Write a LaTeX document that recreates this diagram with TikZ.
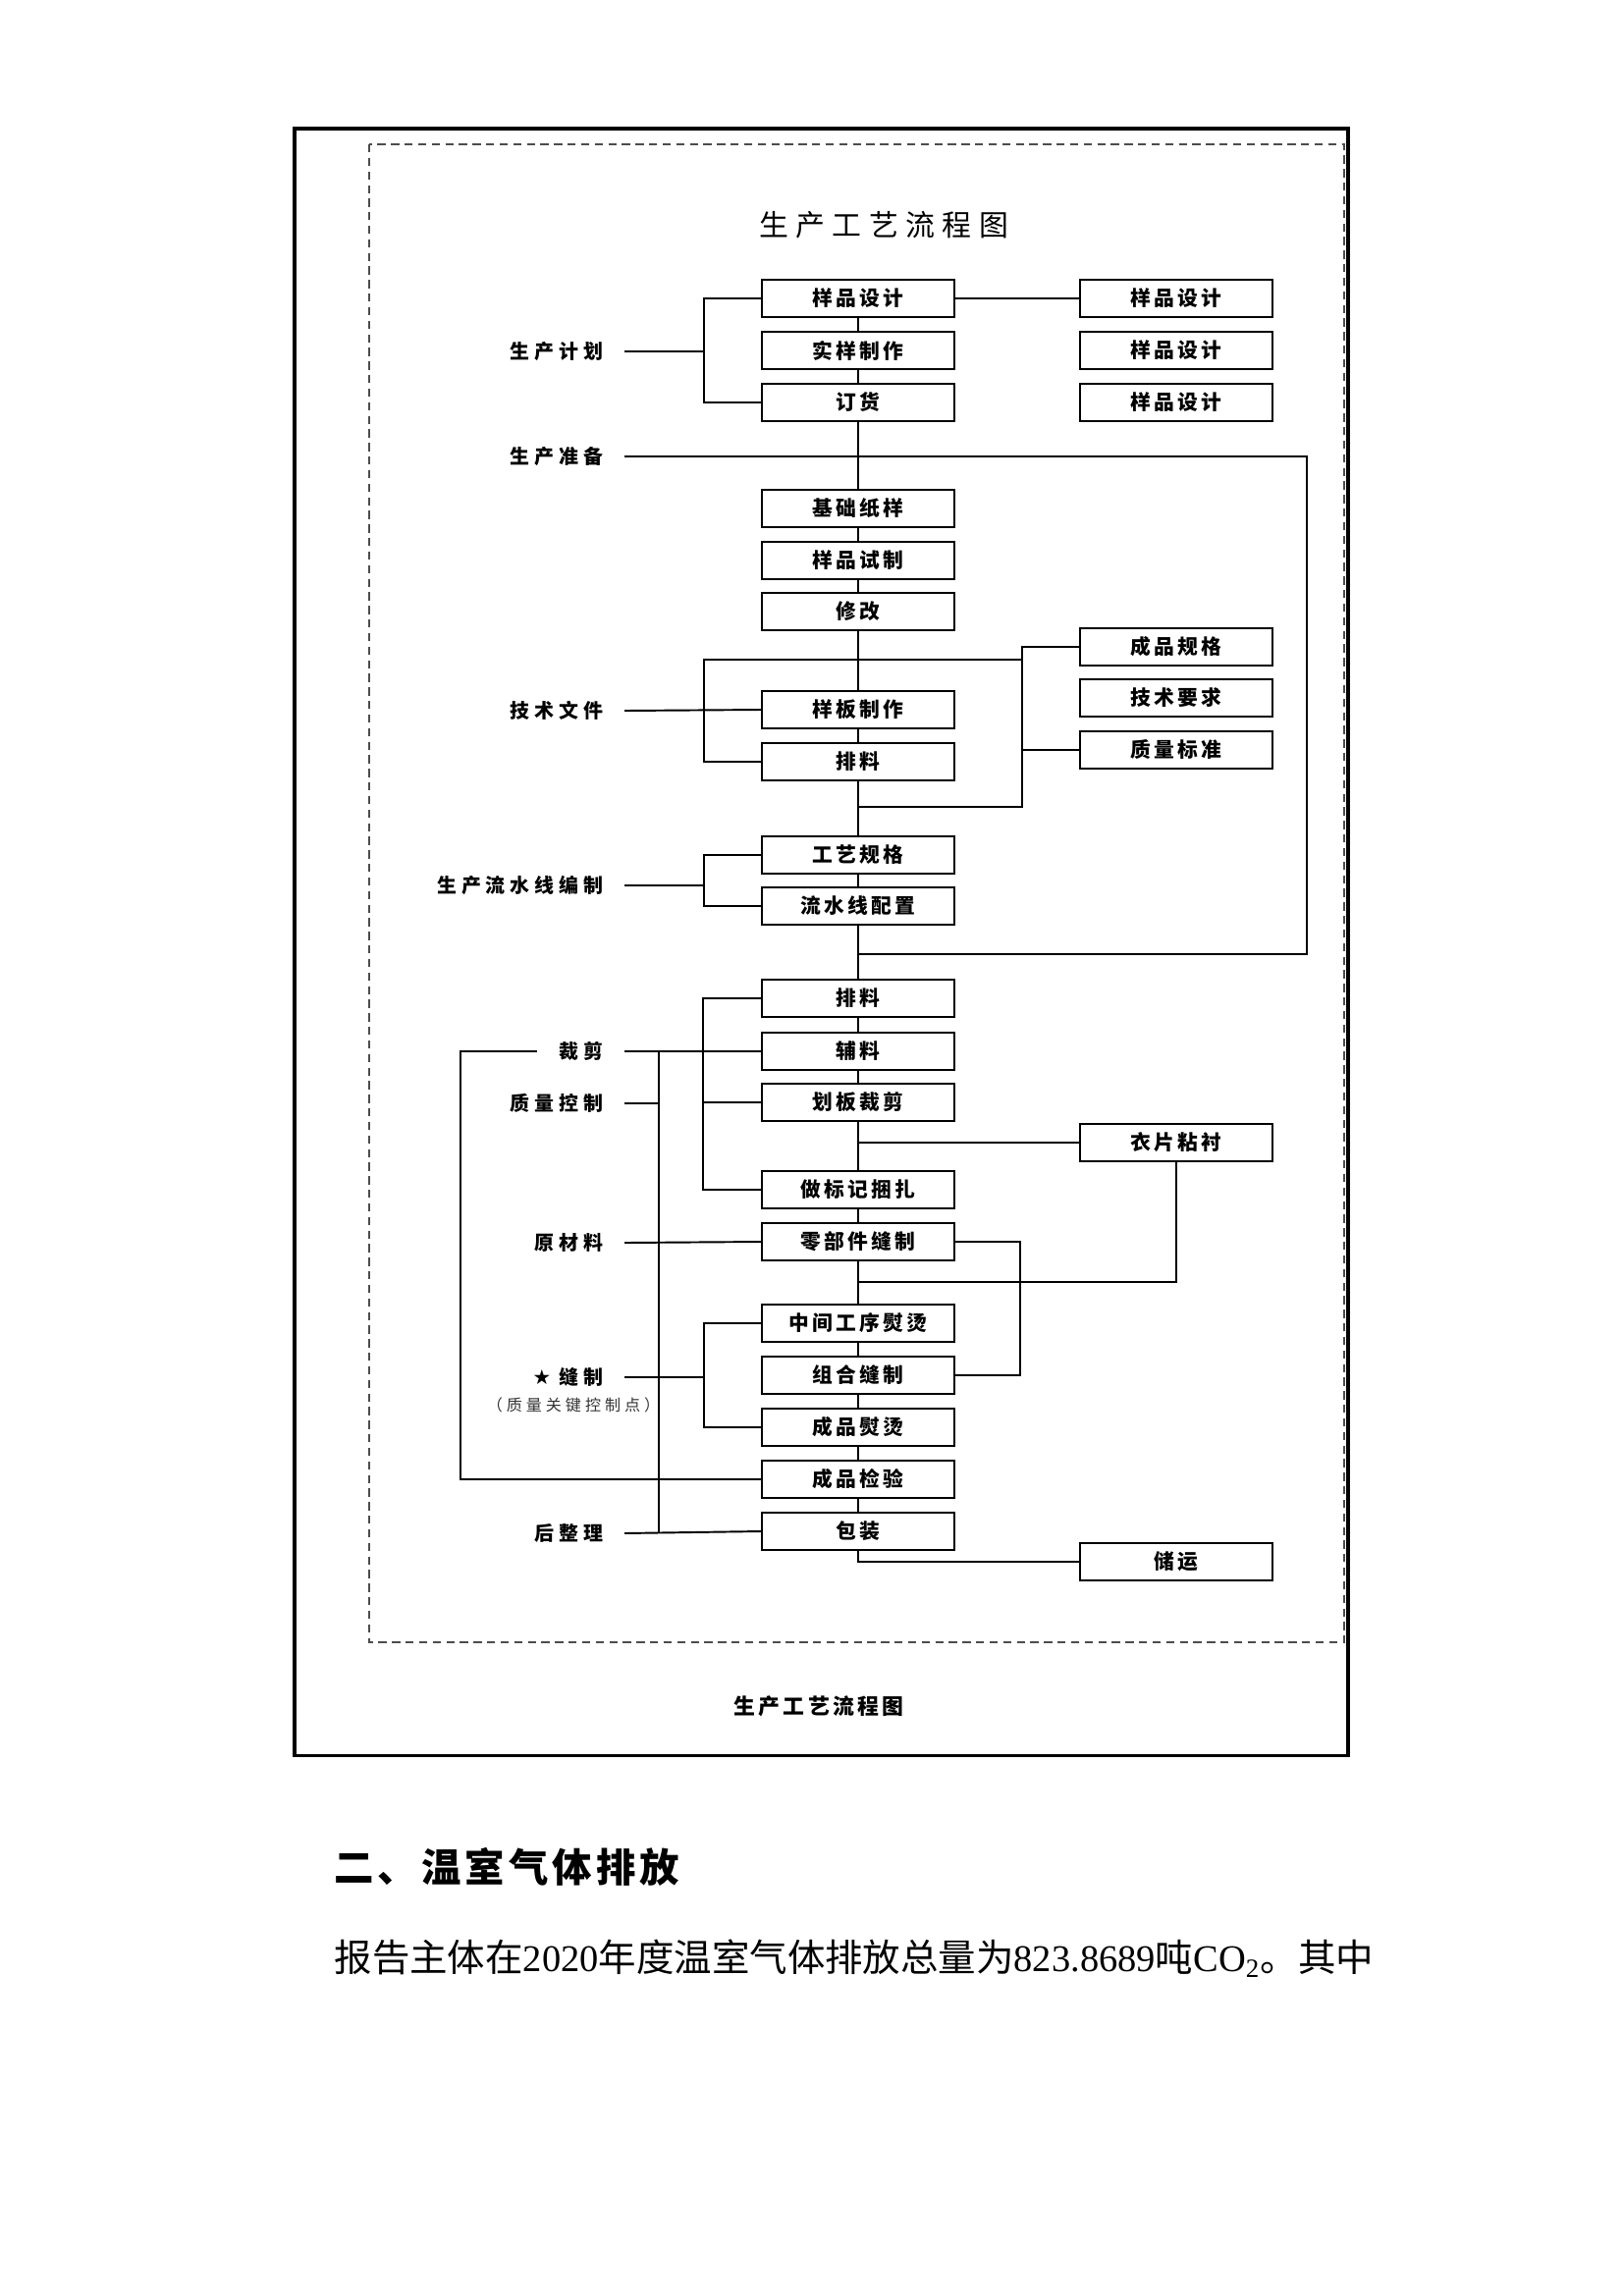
\documentclass[tikz,border=0pt]{standalone}
\usepackage{fontspec}
\newfontfamily\cjk{Noto Sans CJK SC}
\newfontfamily\cjkwide[LetterSpace=25]{Noto Sans CJK SC}
\newfontfamily\cjkmid[LetterSpace=15]{Noto Sans CJK SC}
\newfontfamily\cjkhead[LetterSpace=10]{Noto Sans CJK SC}
\newfontfamily\symfont{DejaVu Sans}
\newfontfamily\numfont{Liberation Serif}

\tikzset{
  stepbox/.style={draw, line width=0.9pt, fill=white, minimum width=24.9mm, minimum height=4.85mm, inner sep=0pt, font=\cjkmid\bfseries\fontsize{7.5}{8}\selectfont},
  lbl/.style={anchor=east, inner sep=0pt, font=\cjkwide\bfseries\fontsize{7.2}{8}\selectfont},
  link/.style={line width=0.7pt},
}

\begin{document}
\begin{tikzpicture}[x=0.12704mm, y=-0.12704mm]
\useasboundingbox (0,0) rectangle (1653,2339);

% frames
\draw[line width=1.1pt] (300,131) rectangle (1373,1788);
\draw[densely dashed, line width=0.4pt, black!70] (376,147) rectangle (1369,1673);
\node[font=\cjkwide\fontsize{10.8}{12}\selectfont] (title) at (900,229) {生产工艺流程图};

% main column
\node[stepbox] (yp) at (874,304) {样品设计};
\node[stepbox] (sy) at (874,357) {实样制作};
\node[stepbox] (dh) at (874,410) {订货};
\node[stepbox] (jc) at (874,518) {基础纸样};
\node[stepbox] (ys) at (874,571) {样品试制};
\node[stepbox] (xg) at (874,623) {修改};
\node[stepbox] (yb) at (874,723) {样板制作};
\node[stepbox] (pl) at (874,776) {排料};
\node[stepbox] (gy) at (874,871) {工艺规格};
\node[stepbox] (lspz) at (874,923) {流水线配置};
\node[stepbox] (plb) at (874,1017) {排料};
\node[stepbox] (fl) at (874,1071) {辅料};
\node[stepbox] (hb) at (874,1123) {划板裁剪};
\node[stepbox] (zbj) at (874,1212) {做标记捆扎};
\node[stepbox] (lbj) at (874,1265) {零部件缝制};
\node[stepbox] (zjgx) at (874,1348) {中间工序熨烫};
\node[stepbox] (zhfz) at (874,1401) {组合缝制};
\node[stepbox] (cpyt) at (874,1454) {成品熨烫};
\node[stepbox] (cpjy) at (874,1507) {成品检验};
\node[stepbox] (bz) at (874,1560) {包装};

% right column
\node[stepbox] (ypA) at (1198,304) {样品设计};
\node[stepbox] (ypB) at (1198,357) {样品设计};
\node[stepbox] (ypC) at (1198,410) {样品设计};
\node[stepbox] (cpgg) at (1198,659) {成品规格};
\node[stepbox] (jsyq) at (1198,711) {技术要求};
\node[stepbox] (zlbz) at (1198,764) {质量标准};
\node[stepbox] (ypzc) at (1198,1164) {衣片粘衬};
\node[stepbox] (cy) at (1198,1591) {储运};

% left labels
\node[lbl] (scjh) at (615,358) {生产计划};
\node[lbl] (sczb) at (615,465) {生产准备};
\node[lbl] (jswj) at (615,724) {技术文件};
\node[lbl] (lsbz) at (615,902) {生产流水线编制};
\node[lbl] (cj) at (615,1071) {裁剪};
\node[lbl] (zlkz) at (615,1124) {质量控制};
\node[lbl] (ycl) at (615,1266) {原材料};
\node[lbl] (fz) at (615,1403) {{\symfont\fontsize{7.5}{8}\selectfont ★}\hspace{3pt}缝制};
\node[font=\cjkwide\fontsize{5.8}{6}\selectfont, black!80] (gjd) at (584,1431) {（质量关键控制点）};
\node[lbl] (hzl) at (615,1562) {后整理};

% junctions
\coordinate (bJH) at (717,358);
\coordinate (zbR) at (1331,465);
\coordinate (zbRB) at (1331,972);
\coordinate (zbEnd) at (874,972);
\coordinate (tkTL) at (717,672);
\coordinate (tkTR) at (1041,672);
\coordinate (tkBR) at (1041,822);
\coordinate (tkBC) at (874,822);
\coordinate (bLS) at (717,902);
\coordinate (qcL) at (469,1071);
\coordinate (qcT) at (671,1071);
\coordinate (qcB) at (671,1562);
\coordinate (jnC) at (874,1306);
\coordinate (bFZ) at (717,1403);

% center line
\draw[link] (yp) -- (sy) -- (dh) -- (jc) -- (ys) -- (xg) -- (yb) -- (pl) -- (gy) -- (lspz) -- (plb) -- (fl) -- (hb) -- (zbj) -- (lbj) -- (zjgx) -- (zhfz) -- (cpyt) -- (cpjy) -- (bz);
\draw[link] (bz.south) |- (cy.west);

% plan
\draw[link] (yp.west) -| (bJH) |- (dh.west);
\draw[link] (scjh.east) ++(21,0) -- (bJH);
\draw[link] (yp.east) -- (ypA.west);

% preparation loop
\draw[link] (sczb.east) ++(21,0) -- (zbR) -- (zbRB) -- (zbEnd);

% technical files
\draw[link] (pl.west) -| (tkTL) -- (tkTR);
\draw[link] (jswj.east) ++(21,0) -- (yb.west);
\draw[link] (cpgg.west) -| (tkBR) -- (tkBC);
\draw[link] (zlbz.west) -- (zlbz.west -| tkBR);

% line planning
\draw[link] (gy.west) -| (bLS) |- (lspz.west);
\draw[link] (lsbz.east) ++(21,0) -- (bLS);

% cutting
\draw[link] (plb.west) -- ++(-59,0) |- (zbj.west);
\draw[link] (hb.west) -- ++(-59,0);
\draw[link] (cj.east) ++(21,0) -- (fl.west);
\draw[link] (cj.west) ++(-22,0) -- (qcL) |- (cpjy.west);
\draw[link] (qcT) -- (qcB);
\draw[link] (zlkz.east) ++(21,0) -- (zlkz.east -| qcT);
\draw[link] (hzl.east) ++(21,0) -- (bz.west);
\draw[link] (ycl.east) ++(21,0) -- (lbj.west);

% fusing and sewing
\draw[link] (ypzc.west) -- (ypzc.west -| hb.south);
\draw[link] (ypzc.south) |- (jnC);
\draw[link] (lbj.east) -- ++(66,0) |- (zhfz.east);
\draw[link] (zjgx.west) -| (bFZ) |- (cpyt.west);
\draw[link] (fz.east) ++(21,0) -- (bFZ);

% caption and text below
\node[font=\cjkmid\bfseries\fontsize{7.9}{9}\selectfont] (cap) at (834,1738) {生产工艺流程图};
\node[anchor=west, inner sep=0pt, font=\cjkhead\bfseries\fontsize{14.6}{16}\selectfont] (head) at (340,1902) {二、温室气体排放};
\node[anchor=west, inner sep=0pt, font=\cjk\fontsize{13.9}{16}\selectfont] (body) at (340,1995)
  {报告主体在{\numfont 2020}年度温室气体排放总量为{\numfont 823.8689}吨{\numfont CO\textsubscript{2}}。其中};
\end{tikzpicture}
\end{document}
